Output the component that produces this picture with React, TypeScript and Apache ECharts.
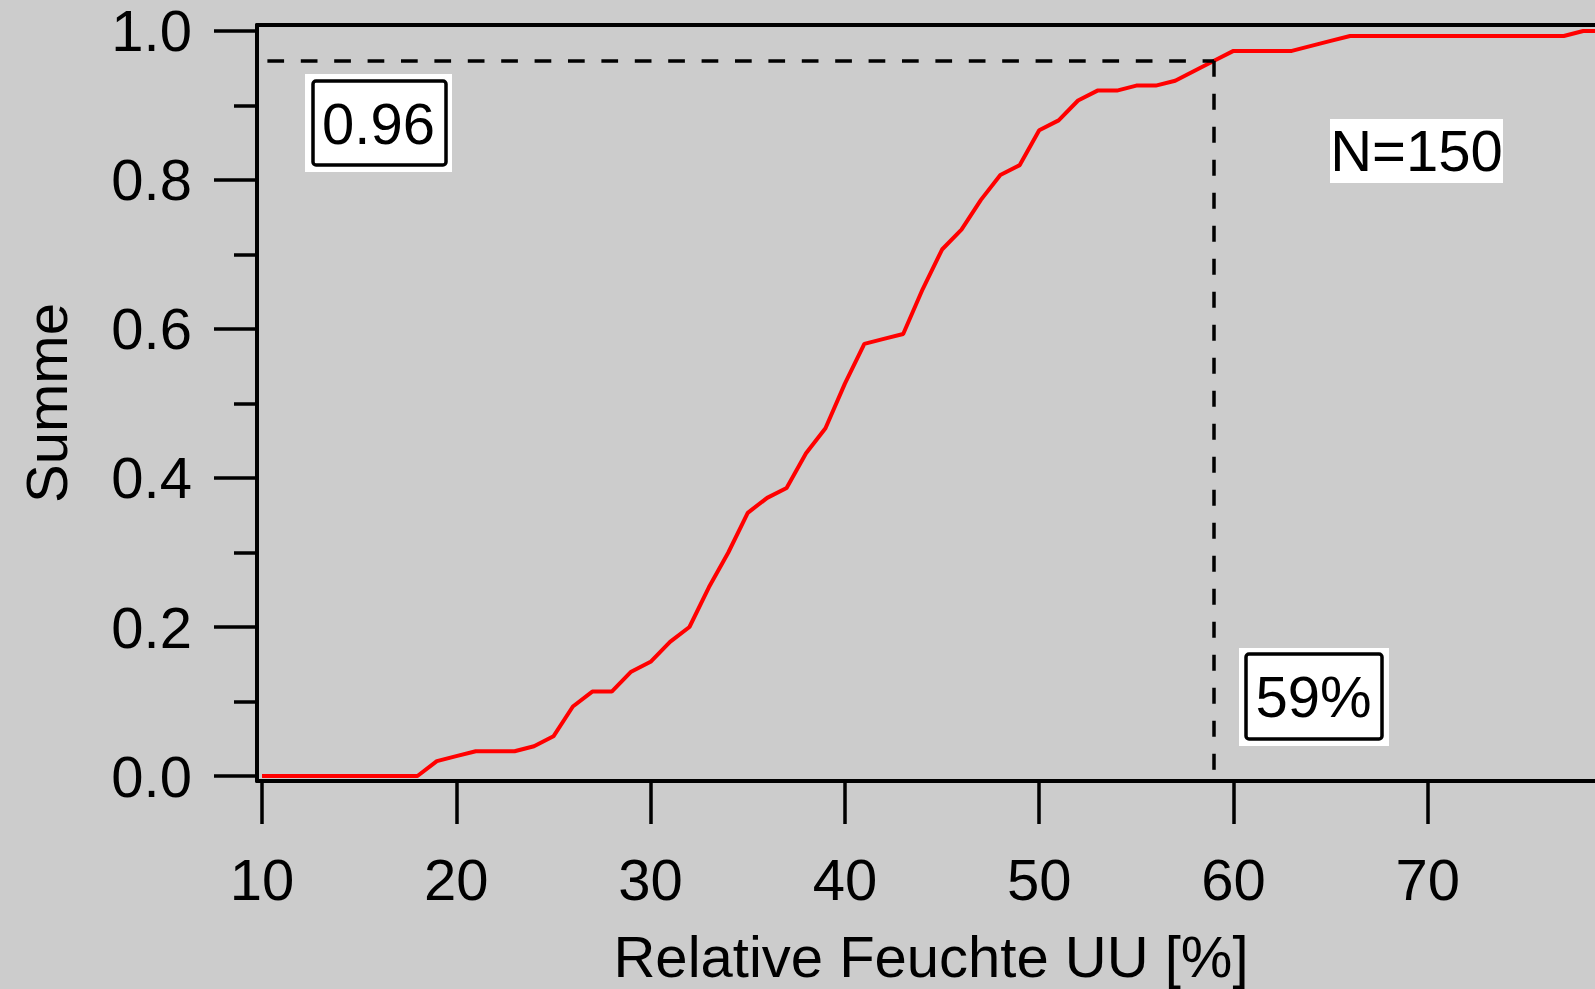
import React, { useEffect, useRef } from "react";
import * as echarts from "echarts";

const humidity = [
  10, 11, 12, 13, 14, 15, 16, 17, 18, 19, 20, 21, 22, 23, 24, 25, 26, 27, 28, 29,
  30, 31, 32, 33, 34, 35, 36, 37, 38, 39, 40, 41, 42, 43, 44, 45, 46, 47, 48, 49,
  50, 51, 52, 53, 54, 55, 56, 57, 58, 59, 60, 61, 62, 63, 64, 65, 66, 67, 68, 69,
  70, 71, 72, 73, 74, 75, 76, 77, 78, 79,
];
const cumulative = [
  0, 0, 0, 0, 0, 0, 0, 0, 0, 0.02, 0.0267, 0.0333, 0.0333, 0.0333, 0.04, 0.0533, 0.0933, 0.1133, 0.1133, 0.14,
  0.1533, 0.18, 0.2, 0.2533, 0.3, 0.3533, 0.3733, 0.3867, 0.4333, 0.4667, 0.5267, 0.58, 0.5867, 0.5933, 0.6533, 0.7067, 0.7333, 0.7733, 0.8067, 0.82,
  0.8667, 0.88, 0.9067, 0.92, 0.92, 0.9267, 0.9267, 0.9333, 0.9467, 0.96, 0.9733, 0.9733, 0.9733, 0.9733, 0.98, 0.9867, 0.9933, 0.9933, 0.9933, 0.9933,
  0.9933, 0.9933, 0.9933, 0.9933, 0.9933, 0.9933, 0.9933, 0.9933, 1.0, 1.0,
];
const xTickValues = [10, 20, 30, 40, 50, 60, 70];
const yMajorTicks = [0, 0.2, 0.4, 0.6, 0.8, 1.0];
const yMinorTicks = [0.1, 0.3, 0.5, 0.7, 0.9];
const refX = 59;
const refY = 0.96;
const xStart = 10;
const labelRefY = "0.96";
const labelRefX = "59%";
const labelN = "N=150";

const FONT = '"Liberation Sans", Arial, Helvetica, sans-serif';

export default function App() {
  const ref = useRef<HTMLDivElement>(null);
  useEffect(() => {
    if (!ref.current) return;
    const chart = echarts.init(ref.current, null, { renderer: "svg" });
    const black = "#000000";
    const xMin = 9.743;
    const xMax = 79.12;
    const yMin = -0.00671;
    const yMax = 1.00805;
    chart.setOption({
      animation: false,
      backgroundColor: "#cccccc",
      grid: {
        left: 257,
        top: 25,
        width: 1348,
        bottom: 208,
        containLabel: false,
        outerBoundsMode: "none",
      },
      xAxis: [
        {
          type: "value",
          min: xMin,
          max: xMax,
          position: "bottom",
          axisLine: { show: true, onZero: false, lineStyle: { color: black, width: 4 } },
          axisTick: { show: true, inside: false, length: 43, customValues: xTickValues, lineStyle: { color: black, width: 3.5 } },
          axisLabel: { show: true, customValues: xTickValues, fontSize: 58, lineHeight: 58, fontFamily: FONT, color: black, margin: 69 },
          splitLine: { show: false },
          name: "Relative Feuchte UU [%]",
          nameLocation: "middle",
          nameGap: 146,
          nameTextStyle: { fontSize: 58, fontFamily: FONT, color: black },
        },
        {
          type: "value",
          min: xMin,
          max: xMax,
          position: "top",
          axisLine: { show: true, onZero: false, lineStyle: { color: black, width: 4 } },
          axisTick: { show: false },
          axisLabel: { show: false },
          splitLine: { show: false },
        },
      ],
      yAxis: [
        {
          type: "value",
          min: yMin,
          max: yMax,
          position: "left",
          offset: 0,
          axisLine: { show: true, onZero: false, lineStyle: { color: black, width: 4 } },
          axisTick: { show: true, inside: false, length: 43, customValues: yMajorTicks, lineStyle: { color: black, width: 3.5 } },
          axisLabel: {
            show: true,
            customValues: yMajorTicks,
            formatter: (v: number) => v.toFixed(1),
            fontSize: 58,
            lineHeight: 58,
            fontFamily: FONT,
            color: black,
            margin: 65,
          },
          splitLine: { show: false },
          name: "Summe",
          nameLocation: "middle",
          nameGap: 182,
          nameRotate: 90,
          nameTextStyle: { fontSize: 58, fontFamily: FONT, color: black },
        },
        {
          type: "value",
          min: yMin,
          max: yMax,
          position: "left",
          offset: 0,
          axisLine: { show: false, onZero: false },
          axisTick: { show: true, inside: false, length: 23, customValues: yMinorTicks, lineStyle: { color: black, width: 3.5 } },
          axisLabel: { show: false },
          splitLine: { show: false },
        },
      ],
      series: [
        {
          type: "line",
          data: humidity.map((x, i) => [x, cumulative[i]]),
          symbol: "none",
          showSymbol: false,
          lineStyle: { color: "#ff0000", width: 4 },
          clip: true,
          z: 3,
          markLine: {
            silent: true,
            symbol: ["none", "none"],
            label: { show: false },
            animation: false,
            data: [
              [
                { coord: [xStart, refY], lineStyle: { color: black, width: 3.5, type: [16.7, 16.7], dashOffset: 28 } },
                { coord: [refX, refY] },
              ],
              [
                { coord: [refX, refY], lineStyle: { color: black, width: 3.5, type: [16, 17] } },
                { coord: [refX, 0] },
              ],
            ],
          },
        },
      ],
      graphic: [
        { type: "rect", shape: { x: 305, y: 74, width: 147, height: 98 }, style: { fill: "#ffffff" }, z: 10 },
        { type: "rect", shape: { x: 313, y: 81, width: 133, height: 84, r: 3 }, style: { fill: "#ffffff", stroke: black, lineWidth: 3.5 }, z: 11 },
        {
          type: "text",
          x: 378.5,
          y: 123,
          z: 12,
          style: { text: labelRefY, fontSize: 58, fontFamily: FONT, fill: black, align: "center", verticalAlign: "middle" },
        },
        { type: "rect", shape: { x: 1330, y: 119, width: 173, height: 64 }, style: { fill: "#ffffff" }, z: 10 },
        {
          type: "text",
          x: 1416.5,
          y: 150,
          z: 12,
          style: { text: labelN, fontSize: 58, fontFamily: FONT, fill: black, align: "center", verticalAlign: "middle" },
        },
        { type: "rect", shape: { x: 1239, y: 648, width: 150, height: 98 }, style: { fill: "#ffffff" }, z: 10 },
        { type: "rect", shape: { x: 1246, y: 654, width: 136, height: 85, r: 3 }, style: { fill: "#ffffff", stroke: black, lineWidth: 3.5 }, z: 11 },
        {
          type: "text",
          x: 1313.5,
          y: 696,
          z: 12,
          style: { text: labelRefX, fontSize: 58, fontFamily: FONT, fill: black, align: "center", verticalAlign: "middle" },
        },
      ],
    });
    return () => chart.dispose();
  }, []);
  return (
    <div
      ref={ref}
      style={{ position: "fixed", left: 0, top: 0, width: "1595px", height: "989px" }}
    />
  );
}
